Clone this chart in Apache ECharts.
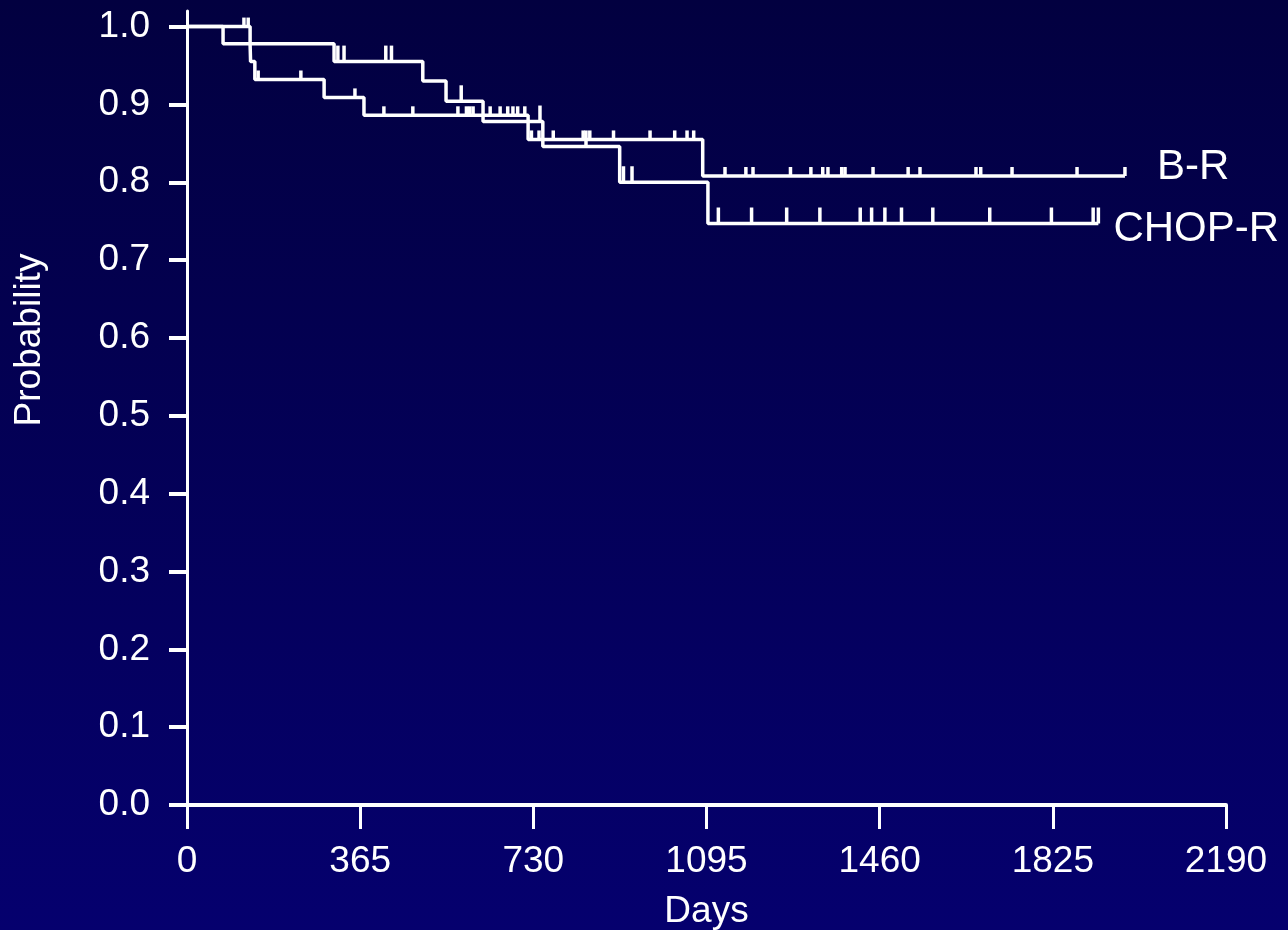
<!DOCTYPE html>
<html>
<head>
<meta charset="utf-8">
<title>Kaplan-Meier: B-R vs CHOP-R</title>
<script src="https://cdn.jsdelivr.net/npm/echarts@6/dist/echarts.min.js"></script>
<style>
  html, body { margin: 0; padding: 0; background: #03004f; }
  #chart { width: 1288px; height: 930px; }
</style>
</head>
<body>
<div id="chart"></div>
<script>
// Kaplan-Meier step curves: [day, survival probability] at each event
const brCurve = [[0, 1.0], [133, 0.977], [134, 0.955], [143, 0.932], [289, 0.909],
                 [373, 0.886], [719, 0.855], [1087, 0.808], [1977, 0.808]];
const chopCurve = [[0, 1.0], [76, 0.978], [310, 0.955], [497, 0.930], [546, 0.904],
                   [624, 0.878], [750, 0.846], [912, 0.800], [1098, 0.747], [1921, 0.747]];

// Censored observations (days)
const brCensored = [120, 129, 150, 240, 354, 415, 476, 571, 589, 596, 603, 639, 660, 676,
                    687, 697, 712, 726, 742, 772, 835, 849, 899, 976, 1028, 1054, 1068,
                    1134, 1178, 1193, 1272, 1315, 1340, 1351, 1380, 1387, 1446, 1520, 1545,
                    1663, 1673, 1739, 1876, 1977];
const chopCensored = [318, 331, 419, 431, 578, 744, 841, 920, 938, 1120, 1190, 1264, 1334,
                      1419, 1443, 1471, 1506, 1572, 1692, 1822, 1910, 1921];

const seriesNames = ['B-R', 'CHOP-R'];
const xTicks = [0, 365, 730, 1095, 1460, 1825, 2190];
const yTicks = [0, 0.1, 0.2, 0.3, 0.4, 0.5, 0.6, 0.7, 0.8, 0.9, 1.0];

// survival value of a step curve at a given day
function survivalAt(curve, day) {
  let v = curve[0][1];
  for (const [d, s] of curve) { if (d <= day) v = s; else break; }
  return v;
}
const brMarks = brCensored.map(d => [d, survivalAt(brCurve, d)]);
const chopMarks = chopCensored.map(d => [d, survivalAt(chopCurve, d)]);

const FONT = "'Liberation Sans', Arial, sans-serif";
const chart = echarts.init(document.getElementById('chart'), null, { renderer: 'canvas' });

chart.setOption({
  animation: false,
  backgroundColor: {
    type: 'linear', x: 0, y: 0, x2: 0, y2: 1,
    colorStops: [{ offset: 0, color: '#020040' }, { offset: 1, color: '#05006e' }]
  },
  textStyle: { fontFamily: FONT },
  grid: { left: 187, right: 62, top: 11, bottom: 125, containLabel: false,
          outerBoundsMode: 'none' },
  xAxis: {
    type: 'value', min: 0, max: 2190, interval: 365,
    name: 'Days', nameLocation: 'middle', nameGap: 88,
    nameTextStyle: { color: '#fff', fontSize: 37, fontFamily: FONT },
    axisLine: { show: true, lineStyle: { color: '#fff', width: 4 } },
    axisTick: { show: true, length: 24, lineStyle: { color: '#fff', width: 3 } },
    axisLabel: { color: '#fff', fontSize: 37, fontFamily: FONT, margin: 38,
                 customValues: xTicks, formatter: v => String(v) },
    splitLine: { show: false }
  },
  yAxis: {
    type: 'value', min: 0, max: 1.02,
    axisLine: { show: true, lineStyle: { color: '#fff', width: 3 } },
    axisTick: { show: true, length: 18, customValues: yTicks,
                lineStyle: { color: '#fff', width: 4 } },
    axisLabel: { color: '#fff', fontSize: 37, fontFamily: FONT, margin: 37,
                 customValues: yTicks, formatter: v => v.toFixed(1) },
    splitLine: { show: false }
  },
  graphic: [{
    type: 'text', x: 30, y: 340, rotation: Math.PI / 2,
    style: { text: 'Probability', fill: '#fff', font: '37px ' + FONT,
             align: 'center', verticalAlign: 'middle' }
  }],
  series: [
    {
      name: seriesNames[0], type: 'line', step: 'end', data: brCurve,
      showSymbol: false, lineStyle: { color: '#fff', width: 3.5 },
      endLabel: { show: true, formatter: '{a}', color: '#fff', fontSize: 42,
                  fontFamily: FONT, distance: 0, offset: [32, -9] },
      z: 3
    },
    {
      name: seriesNames[1], type: 'line', step: 'end', data: chopCurve,
      showSymbol: false, lineStyle: { color: '#fff', width: 3.5 },
      endLabel: { show: true, formatter: '{a}', color: '#fff', fontSize: 42,
                  fontFamily: FONT, distance: 0, offset: [15, 6] },
      z: 3
    },
    {
      name: 'B-R censored', type: 'scatter', data: brMarks,
      symbol: 'rect', symbolSize: [3.5, 9], symbolOffset: [0, '-50%'],
      itemStyle: { color: '#fff', opacity: 1 }, z: 4
    },
    {
      name: 'CHOP-R censored', type: 'scatter', data: chopMarks,
      symbol: 'rect', symbolSize: [3.5, 16], symbolOffset: [0, '-50%'],
      itemStyle: { color: '#fff', opacity: 1 }, z: 4
    }
  ]
});
</script>
</body>
</html>
